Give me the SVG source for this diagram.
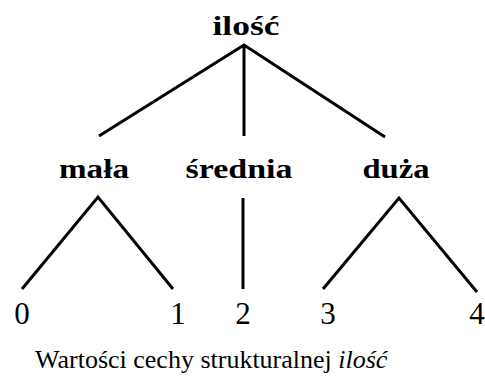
<svg xmlns="http://www.w3.org/2000/svg" width="485" height="385" viewBox="0 0 485 385">
  <style>
    .node { font-family: 'Liberation Serif', serif; font-weight: bold; font-size: 28px; fill: #000; text-anchor: middle; }
    .leaf { font-family: 'Liberation Serif', serif; font-size: 31px; fill: #000; text-anchor: middle; }
    .caption { font-family: 'Liberation Serif', serif; font-size: 26px; fill: #000; }
    .edge { stroke: #000; stroke-width: 3; stroke-linecap: butt; fill: none; }
  </style>
  <rect width="485" height="385" fill="#fff"/>

  <g id="connectors">
    <!-- root to categories -->
    <path class="edge" d="M99,136 L244,45 L385,137 M244,45 L244,136"/>
    <!-- categories to values -->
    <path class="edge" d="M22,289 L98,197 L173,289"/>
    <path class="edge" d="M243,198 L243,289"/>
    <path class="edge" d="M323,289 L399,198 L477,292"/>
  </g>

  <g id="node-ilosc"><text class="node" x="246" y="35" textLength="67" lengthAdjust="spacingAndGlyphs">ilość</text></g>
  <g id="node-mala"><text class="node" x="94" y="178" textLength="70" lengthAdjust="spacingAndGlyphs">mała</text></g>
  <g id="node-srednia"><text class="node" x="239" y="178" textLength="107" lengthAdjust="spacingAndGlyphs">średnia</text></g>
  <g id="node-duza"><text class="node" x="396" y="178" textLength="67" lengthAdjust="spacingAndGlyphs">duża</text></g>

  <g id="leaf-0"><text class="leaf" x="22" y="324">0</text></g>
  <g id="leaf-1"><text class="leaf" x="178" y="324">1</text></g>
  <g id="leaf-2"><text class="leaf" x="243" y="324">2</text></g>
  <g id="leaf-3"><text class="leaf" x="328" y="324">3</text></g>
  <g id="leaf-4"><text class="leaf" x="477" y="324">4</text></g>

  <text class="caption" x="35" y="368">Wartości cechy strukturalnej <tspan font-style="italic">ilość</tspan></text>
</svg>
